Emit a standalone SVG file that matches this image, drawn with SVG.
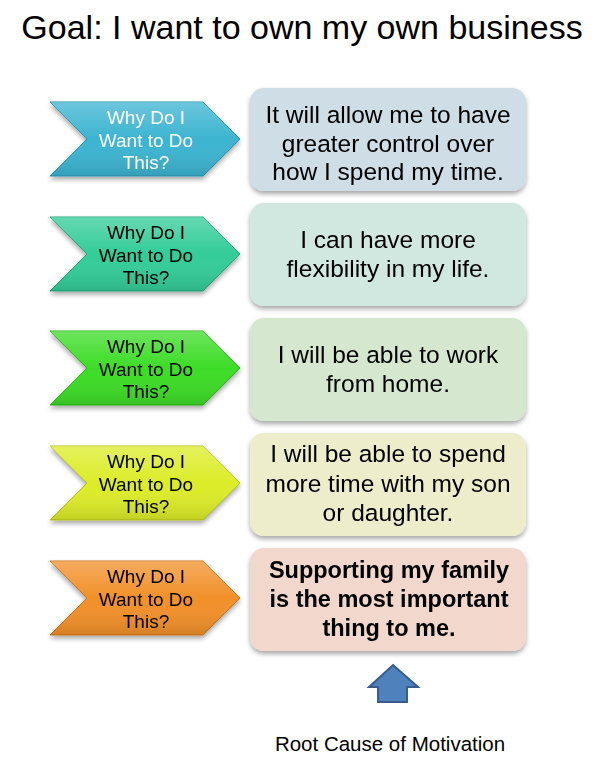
<svg xmlns="http://www.w3.org/2000/svg" width="600" height="759" viewBox="0 0 600 759">
<defs>
<filter id="sh" x="-10%" y="-10%" width="120%" height="130%">
<feGaussianBlur in="SourceAlpha" stdDeviation="2.5"/>
<feOffset dx="0" dy="3" result="b"/>
<feComponentTransfer><feFuncA type="linear" slope="0.35"/></feComponentTransfer>
<feMerge><feMergeNode/><feMergeNode in="SourceGraphic"/></feMerge>
</filter>
<linearGradient id="gl" x1="0" y1="0" x2="0" y2="1">
<stop offset="0" stop-color="#fff" stop-opacity="0.25"/>
<stop offset="0.5" stop-color="#fff" stop-opacity="0"/>
<stop offset="1" stop-color="#000" stop-opacity="0.12"/>
</linearGradient>
<path id="chev" d="M50,0 H203 L240,37 L203,74 H50 L87,37 Z"/>
</defs>
<style>
.t{font-family:"Liberation Sans",Arial,sans-serif;text-anchor:middle;fill:#000}
.ct{font-size:19px}
.bt{font-size:24.5px}
.bb{font-size:23.5px;font-weight:bold}
</style>
<rect width="600" height="759" fill="#fff"/>
<text class="t" x="302" y="39" font-size="34">Goal: I want to own my own business</text>

<g id="chevron1" filter="url(#sh)">
<use href="#chev" y="102" fill="#3cb4d1" stroke="#2a98b3" stroke-width="1"/>
<use href="#chev" y="102" fill="url(#gl)"/>
<text class="t ct" x="146" y="124" style="fill:#fff">Why Do I</text>
<text class="t ct" x="146" y="147" style="fill:#fff">Want to Do</text>
<text class="t ct" x="146" y="169" style="fill:#fff">This?</text>
</g>
<g id="chevron2" filter="url(#sh)">
<use href="#chev" y="217" fill="#33cc99" stroke="#26a97c" stroke-width="1"/>
<use href="#chev" y="217" fill="url(#gl)"/>
<text class="t ct" x="146" y="239">Why Do I</text>
<text class="t ct" x="146" y="262">Want to Do</text>
<text class="t ct" x="146" y="284">This?</text>
</g>
<g id="chevron3" filter="url(#sh)">
<use href="#chev" y="331" fill="#3ddc27" stroke="#2fb31c" stroke-width="1"/>
<use href="#chev" y="331" fill="url(#gl)"/>
<text class="t ct" x="146" y="353">Why Do I</text>
<text class="t ct" x="146" y="376">Want to Do</text>
<text class="t ct" x="146" y="398">This?</text>
</g>
<g id="chevron4" filter="url(#sh)">
<use href="#chev" y="446" fill="#dcec28" stroke="#b9c71c" stroke-width="1"/>
<use href="#chev" y="446" fill="url(#gl)"/>
<text class="t ct" x="146" y="468">Why Do I</text>
<text class="t ct" x="146" y="491">Want to Do</text>
<text class="t ct" x="146" y="513">This?</text>
</g>
<g id="chevron5" filter="url(#sh)">
<use href="#chev" y="561" fill="#f2902a" stroke="#cf7416" stroke-width="1"/>
<use href="#chev" y="561" fill="url(#gl)"/>
<text class="t ct" x="146" y="583">Why Do I</text>
<text class="t ct" x="146" y="606">Want to Do</text>
<text class="t ct" x="146" y="628">This?</text>
</g>

<g id="box1" filter="url(#sh)">
<rect x="250" y="88" width="276" height="103" rx="14" fill="#cedde6"/>
<text class="t bt" x="388" y="123">It will allow me to have</text>
<text class="t bt" x="388" y="152">greater control over</text>
<text class="t bt" x="388" y="180">how I spend my time.</text>
</g>
<g id="box2" filter="url(#sh)">
<rect x="250" y="203" width="276" height="103" rx="14" fill="#d0e8df"/>
<text class="t bt" x="388" y="248">I can have more</text>
<text class="t bt" x="388" y="277">flexibility in my life.</text>
</g>
<g id="box3" filter="url(#sh)">
<rect x="250" y="318" width="276" height="103" rx="14" fill="#d5e8cf"/>
<text class="t bt" x="388" y="363">I will be able to work</text>
<text class="t bt" x="388" y="392">from home.</text>
</g>
<g id="box4" filter="url(#sh)">
<rect x="250" y="433" width="276" height="103" rx="14" fill="#ededcc"/>
<text class="t bt" x="388" y="462">I will be able to spend</text>
<text class="t bt" x="388" y="492">more time with my son</text>
<text class="t bt" x="388" y="521">or daughter.</text>
</g>
<g id="box5" filter="url(#sh)">
<rect x="250" y="548" width="276" height="103" rx="14" fill="#f2d8cc"/>
<text class="t bb" x="389" y="578">Supporting my family</text>
<text class="t bb" x="389" y="607">is the most important</text>
<text class="t bb" x="389" y="636">thing to me.</text>
</g>

<g id="connectors">
<path d="M393,665 L418,687 H407 V702 H378 V687 H369 Z" fill="#4f81bd" stroke="#385d8a" stroke-width="2"/>
</g>
<text id="root" class="t" x="390" y="751" font-size="20.5">Root Cause of Motivation</text>
</svg>
